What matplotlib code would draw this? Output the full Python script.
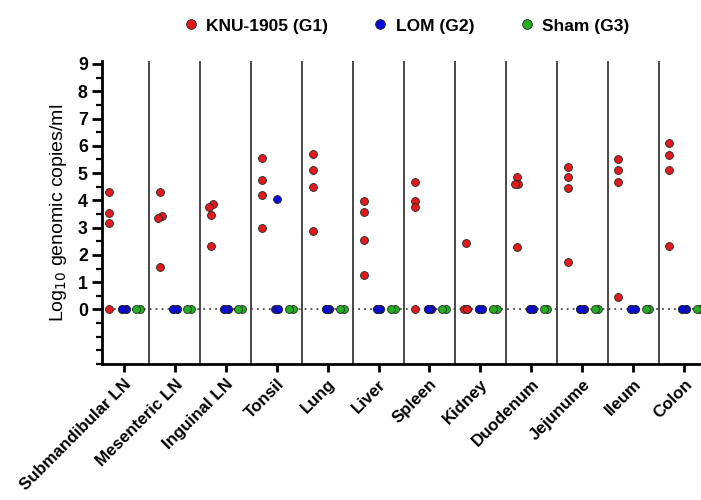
import matplotlib
matplotlib.use("Agg")
import matplotlib.pyplot as plt
from matplotlib.lines import Line2D
import numpy as np

plt.rcParams['font.family'] = ['Liberation Sans', 'DejaVu Sans']

categories = ["Submandibular LN", "Mesenteric LN", "Inguinal LN", "Tonsil", "Lung",
              "Liver", "Spleen", "Kidney", "Duodenum", "Jejunume", "Ileum", "Colon"]

g1_knu = [
    [4.29, 3.54, 3.17, 0.0],
    [4.30, 3.41, 3.37, 1.54],
    [3.87, 3.74, 3.46, 2.33],
    [5.55, 4.73, 4.20, 2.98],
    [5.70, 5.12, 4.48, 2.88],
    [3.96, 3.57, 2.54, 1.26],
    [4.67, 3.96, 3.74, 0.0],
    [2.43, 0.0, 0.0, 0.0],
    [4.84, 4.61, 4.61, 2.28],
    [5.24, 4.84, 4.44, 1.75],
    [5.52, 5.11, 4.69, 0.46],
    [6.10, 5.67, 5.10, 2.34],
]
g2_lom = [
    [0.0, 0.0, 0.0, 0.0],
    [0.0, 0.0, 0.0, 0.0],
    [0.0, 0.0, 0.0, 0.0],
    [4.05, 0.0, 0.0, 0.0],
    [0.0, 0.0, 0.0, 0.0],
    [0.0, 0.0, 0.0, 0.0],
    [0.0, 0.0, 0.0, 0.0],
    [0.0, 0.0, 0.0, 0.0],
    [0.0, 0.0, 0.0, 0.0],
    [0.0, 0.0, 0.0, 0.0],
    [0.0, 0.0, 0.0, 0.0],
    [0.0, 0.0, 0.0, 0.0],
]
g3_sham = [[0.0, 0.0] for _ in categories]

series_names = ["KNU-1905 (G1)", "LOM (G2)", "Sham (G3)"]
series_data = [g1_knu, g2_lom, g3_sham]
colors = ["#e31a1c", "#0a0adc", "#22b022"]
group_offsets = [-0.29, 0.0, 0.28]

fig = plt.figure(figsize=(7.01, 5.0), dpi=100)
ax = fig.add_axes([0.145, 0.272, 0.855, 0.606])

ax.set_xlim(-0.435, 11.33)
ax.set_ylim(-2, 9.11)

# zero reference line
ax.axhline(0, color="#4a4a4a", lw=1.3, ls=(0, (1, 2.3)), zorder=1)

# category dividers
for i in range(len(categories) - 1):
    ax.axvline(i + 0.5, color="#3a3a3a", lw=1.3, zorder=1)


def spread(vals, step=0.036, tol=0.15):
    vals = list(vals)
    offs = [0.0] * len(vals)
    used = [False] * len(vals)
    for i, v in enumerate(vals):
        if used[i]:
            continue
        grp = [j for j in range(len(vals)) if not used[j] and abs(vals[j] - v) < tol]
        for k, j in enumerate(grp):
            used[j] = True
            if len(grp) > 1:
                offs[j] = step if k % 2 == 0 else -step
    return offs


for s, (data, col, go) in enumerate(zip(series_data, colors, group_offsets)):
    for i, vals in enumerate(data):
        offs = spread(vals)
        xs = [i + go + o for o in offs]
        ax.scatter(xs, vals, s=32, color=col, edgecolor="#222222", linewidth=0.6,
                   zorder=3, clip_on=False)

ax.set_xticks(range(len(categories)))
ax.set_xticklabels(categories, rotation=45, ha="right", rotation_mode="anchor",
                   fontsize=12.2, fontweight="bold")
ax.set_yticks(range(0, 10))
ax.set_yticklabels([str(v) for v in range(0, 10)], fontsize=12.8, fontweight="bold")
ax.set_yticks(np.arange(-2, 9.01, 0.5), minor=True)

ax.tick_params(axis="x", which="major", length=6, width=2, pad=3)
ax.tick_params(axis="y", which="major", length=7, width=2, pad=3)
ax.tick_params(axis="y", which="minor", length=4, width=1.6)
ax.tick_params(axis="x", which="minor", length=0)

for side in ["top", "right"]:
    ax.spines[side].set_visible(False)
for side in ["left", "bottom"]:
    ax.spines[side].set_linewidth(2)

ax.set_ylabel("Log$_{10}$ genomic copies/ml", fontsize=14, labelpad=6)

handles = [Line2D([0], [0], marker="o", ls="", markersize=7, markerfacecolor=c,
                  markeredgecolor="#222222", markeredgewidth=0.6) for c in colors]
leg = fig.legend(handles, series_names, loc="center", bbox_to_anchor=(0.58, 0.948),
                 ncol=3, frameon=False, handlelength=0.8, handletextpad=0.5,
                 columnspacing=2.6, prop={"weight": "bold", "size": 12.5})

fig.savefig("out.png", dpi=100)
